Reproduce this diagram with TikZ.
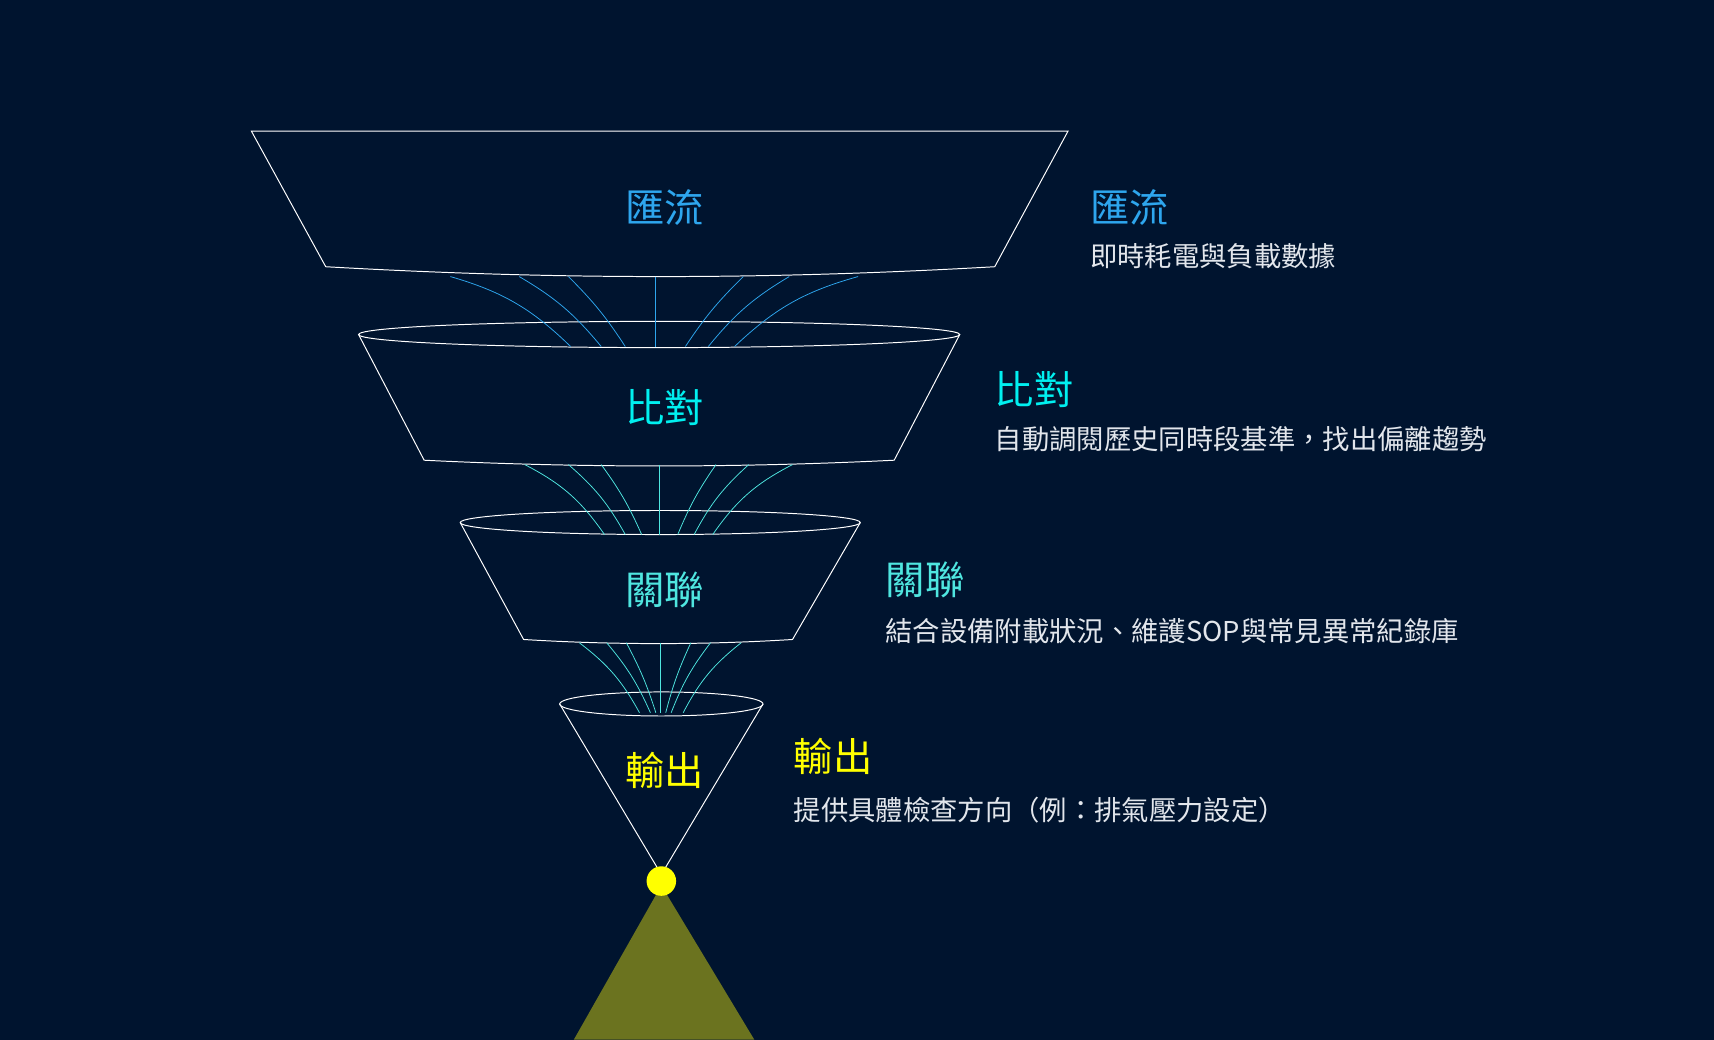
\documentclass[tikz,border=0pt]{standalone}
\usepackage{fontspec}
\setmainfont{Noto Sans CJK TC}
\definecolor{bg}{HTML}{00142F}
\definecolor{flowblue}{HTML}{2EA6EE}
\definecolor{cmpcyan}{HTML}{00F0F0}
\definecolor{relcyan}{HTML}{4FE6E0}
\definecolor{outyellow}{HTML}{FFFF00}
\definecolor{beam}{HTML}{6B731F}
\definecolor{desc}{HTML}{E2E6EC}

\begin{document}
\begin{tikzpicture}[x=1pt, y=-1pt]
        \tikzstyle{rim}=[draw=white, line width=0.9pt]
        \tikzstyle{title}=[anchor=west, inner sep=0pt, font=\fontsize{36}{36}\selectfont]
        \tikzstyle{note}=[anchor=west, inner sep=0pt, text=desc, font=\fontsize{25}{25}\selectfont]
        \tikzstyle{stage}=[inner sep=0pt, font=\fontsize{36}{36}\selectfont]

                    % Fundo
                    \fill[bg] (0,0) rectangle (1568,951);
                    \useasboundingbox (0,0) rectangle (1568,951);

                    % Feixe e ponto
                    \fill[beam] (605,810) -- (525,951) -- (690,951) -- cycle;

                    % Funis
                    \draw[rim] (230,120) -- (977,120) -- (910,244) .. controls (700,256) and (510,256) .. (298,244) -- cycle;
                    \draw[rim] (328,306) -- (388,421) .. controls (530,428) and (676,428) .. (818,421) -- (878,306);
                    \draw[rim] (603,306) ellipse (275 and 12);
                    \draw[rim] (421,478) -- (479,585) .. controls (560,590) and (645,590) .. (725,585) -- (787,478);
                    \draw[rim] (604,478) ellipse (183 and 11);
                    \draw[rim] (512,644) -- (605,800) -- (698,644);
                    \draw[rim] (605,644) ellipse (93 and 11);
                    \node[circle, fill=outyellow, minimum size=27pt, inner sep=0pt] (dot) at (605,806) {};

                    % Linhas de fluxo
                    \foreach \a/\b/\bend in {412/522/14, 475/550/10, 520/572/6, 600/600/0, 680/627/-6, 722/648/-10, 785/672/-14}{
                        \coordinate (u\a) at (\a,253);
                        \coordinate (l\a) at (\b,317);
                        \draw[flowblue, line width=0.7pt] (u\a) to[bend left=\bend] (l\a);
                    }
                    \foreach \a/\b/\bend in {480/553/14, 520/572/10, 550/587/6, 603/603/0, 655/620/-6, 685/635/-10, 725/652/-14}{
                        \coordinate (m\a) at (\a,425);
                        \coordinate (n\a) at (\b,489);
                        \draw[relcyan, line width=0.7pt] (m\a) to[bend left=\bend] (n\a);
                    }
                    \foreach \a/\b/\bend in {530/585/12, 555/595/8, 573/600/5, 604/604/0, 632/609/-5, 650/614/-8, 678/625/-12}{
                        \coordinate (p\a) at (\a,588);
                        \coordinate (q\a) at (\b,652);
                        \draw[relcyan, line width=0.7pt] (p\a) to[bend left=\bend] (q\a);
                    }

                    % Rótulos
                    \node[stage, text=flowblue] (s1) at (608,190) {匯流};
                    \node[stage, text=cmpcyan] (s2) at (608,373) {比對};
                    \node[stage, text=relcyan] (s3) at (608,540) {關聯};
                    \node[stage, text=outyellow] (s4) at (608,705) {輸出};

                    \node[title, text=flowblue] (t1) at (997,190) {匯流};
                    \node[note] (d1) at (997,234) {即時耗電與負載數據};
                    \node[title, text=cmpcyan] (t2) at (910,356) {比對};
                    \node[note] (d2) at (910,402) {自動調閱歷史同時段基準，找出偏離趨勢};
                    \node[title, text=relcyan] (t3) at (810,530) {關聯};
                    \node[note] (d3) at (810,577) {結合設備附載狀況、維護SOP與常見異常紀錄庫};
                    \node[title, text=outyellow] (t4) at (726,692) {輸出};
                    \node[note] (d4) at (726,741) {提供具體檢查方向（例：排氣壓力設定）};
\end{tikzpicture}
\end{document}
